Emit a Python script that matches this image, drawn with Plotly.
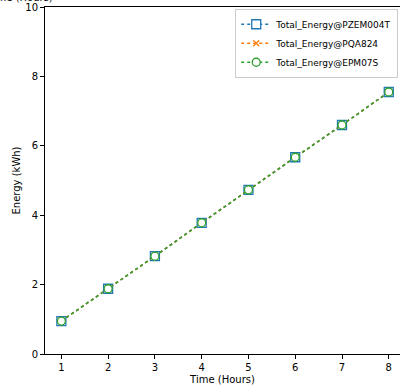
import plotly.graph_objects as go

hours = [1, 2, 3, 4, 5, 6, 7, 8]
energy_pzem = [0.95, 1.88, 2.82, 3.78, 4.73, 5.67, 6.60, 7.55]
energy_pqa = [0.95, 1.88, 2.82, 3.78, 4.73, 5.67, 6.60, 7.55]
energy_epm = [0.95, 1.88, 2.82, 3.78, 4.73, 5.67, 6.60, 7.55]
names = ["Total_Energy@PZEM004T", "Total_Energy@PQA824", "Total_Energy@EPM07S"]
colors = ["#1f77b4", "#ff7f0e", "#2ca02c"]
symbols = ["square", "x-thin-open", "circle"]
fills = ["white", "#ff7f0e", "white"]
sizes = [9, 6, 8]

fig = go.Figure()
for name, vals, c, s, f, sz in zip(names, [energy_pzem, energy_pqa, energy_epm], colors, symbols, fills, sizes):
    fig.add_trace(go.Scatter(
        x=hours, y=vals, name=name, mode="lines+markers",
        line=dict(color=c, width=1.5, dash="dot"),
        marker=dict(symbol=s, size=sz, color=f, line=dict(color=c, width=1.3)),
    ))

font = dict(family="DejaVu Sans", size=10, color="#000")
fig.update_layout(
    width=400, height=385,
    margin=dict(l=45, r=0, t=7, b=31),
    paper_bgcolor="white", plot_bgcolor="white",
    font=font,
    showlegend=True,
    legend=dict(x=0.995, y=0.995, xanchor="right", yanchor="top",
                bgcolor="rgba(255,255,255,0.8)", bordercolor="#ccc", borderwidth=1,
                font=dict(family="DejaVu Sans", size=9, color="#000"),
                tracegroupgap=0, itemwidth=30),
    annotations=[dict(text="Time (Hours)", xref="paper", yref="paper",
                      x=0, y=1, xanchor="right", yanchor="bottom",
                      xshift=10, yshift=2,
                      showarrow=False, font=font)],
)
fig.update_xaxes(range=[0.65, 8.24], tickvals=hours, showgrid=False, zeroline=False,
                 showline=True, linecolor="#000", linewidth=1, mirror=True,
                 ticks="outside", ticklen=4, tickcolor="#000",
                 title=dict(text="Time (Hours)", font=font, standoff=4))
fig.update_yaxes(range=[0, 10], tickvals=[0, 2, 4, 6, 8, 10], showgrid=False, zeroline=False,
                 showline=True, linecolor="#000", linewidth=1,
                 ticks="outside", ticklen=4, tickcolor="#000",
                 title=dict(text="Energy (kWh)", font=font, standoff=2))
fig.write_html("out.html")
